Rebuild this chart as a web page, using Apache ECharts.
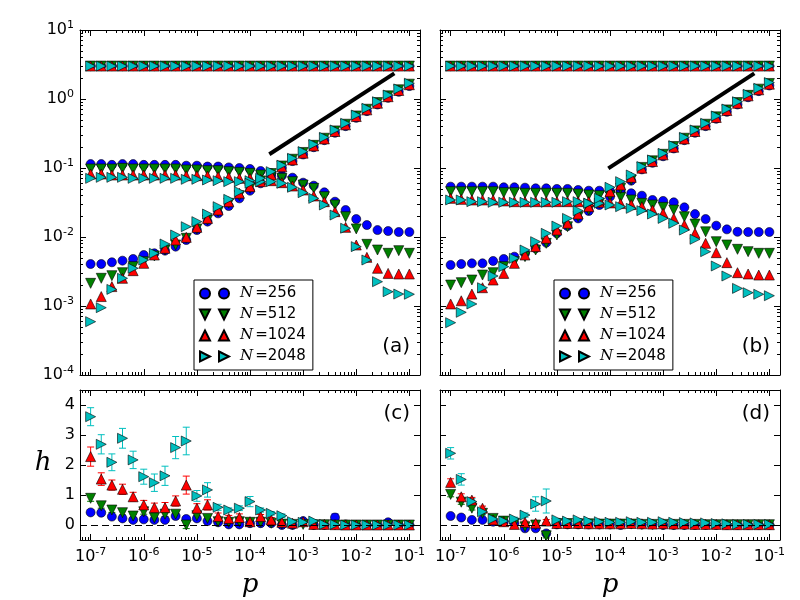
<!DOCTYPE html>
<html>
<head>
<meta charset="utf-8">
<script src="https://cdn.jsdelivr.net/npm/echarts@6/dist/echarts.min.js"></script>
<style>
  html, body { margin: 0; background: #fff; }
  #chart { width: 800px; height: 600px; }
</style>
</head>
<body>
<div id="chart"></div>
<script>
// log10(p) for each sample
const logP = [-7, -6.8, -6.6, -6.4, -6.2, -6, -5.8, -5.6, -5.4, -5.2, -5, -4.8, -4.6, -4.4, -4.2,
  -4, -3.8, -3.6, -3.4, -3.2, -3, -2.8, -2.6, -2.4, -2.2, -2, -1.8, -1.6, -1.4, -1.2, -1];

// panel (a): saturated level, plateau branch, rising branch
const aSat = [3.0, 3.0, 3.0, 3.0, 3.0, 3.0, 3.0, 3.0, 3.0, 3.0, 3.0, 3.0, 3.0, 3.0, 3.0, 3.0,
  3.0, 3.0, 3.0, 3.0, 3.0, 3.0, 3.0, 3.0, 3.0, 3.0, 3.0, 3.0, 3.0, 3.0, 3.0];
const a256Plat = [0.114, 0.114, 0.111, 0.114, 0.114, 0.111, 0.111, 0.111, 0.111, 0.108, 0.108, 0.105, 0.105, 0.102, 0.100,
  0.0968, 0.0905, 0.0837, 0.0774, 0.0724, 0.0613, 0.0555, 0.0444, 0.0325, 0.0246, 0.0182, 0.0149, 0.0126, 0.0122, 0.0118, 0.0118];
const a512Plat = [0.0968, 0.0968, 0.0968, 0.0989, 0.0968, 0.0968, 0.0968, 0.0968, 0.0968, 0.0936, 0.0936, 0.0915, 0.0915, 0.0885, 0.0866,
  0.0837, 0.0792, 0.0749, 0.0708, 0.0634, 0.0567, 0.0507, 0.0384, 0.0291, 0.0197, 0.0131, 0.00783, 0.00648, 0.00580, 0.00634, 0.00580];
const a1024Plat = [0.0819, 0.0819, 0.0792, 0.0792, 0.0792, 0.0792, 0.0792, 0.0792, 0.0792, 0.0774, 0.0774, 0.0766, 0.0749, 0.0732, 0.0708,
  0.0708, 0.0685, 0.0655, 0.0613, 0.0548, 0.0480, 0.0393, 0.0325, 0.0233, 0.0138, 0.00766, 0.00507, 0.00352, 0.00297, 0.00291, 0.00291];
const a2048Plat = [0.0708, 0.0732, 0.0732, 0.0732, 0.0708, 0.0708, 0.0708, 0.0708, 0.0708, 0.0685, 0.0685, 0.0670, 0.0655, 0.0634, 0.0634,
  0.0655, 0.0634, 0.0634, 0.0600, 0.0525, 0.0439, 0.0363, 0.0291, 0.0208, 0.0134, 0.00725, 0.00464, 0.00225, 0.00161, 0.00149, 0.00148];
const a256Rise = [0.00406, 0.00406, 0.00430, 0.00454, 0.00480, 0.00548, 0.00580, 0.00634, 0.00725, 0.00904, 0.0126, 0.0167, 0.0220, 0.0281, 0.0363,
  0.0469, 0.0600, 0.0749, 0.100, 0.126, 0.157, 0.200, 0.253, 0.324, 0.404, 0.533, 0.667, 0.832, 1.04, 1.27, 1.54];
const a512Rise = [0.00213, 0.00252, 0.00275, 0.00304, 0.00372, 0.00439, 0.00531, 0.00648, 0.00766, 0.00957, 0.0131, 0.0176, 0.0233, 0.0308, 0.0397,
  0.0507, 0.0650, 0.0830, 0.107, 0.134, 0.168, 0.213, 0.270, 0.345, 0.431, 0.568, 0.711, 0.887, 1.11, 1.36, 1.64];
const a1024Rise = [0.00107, 0.00137, 0.00191, 0.00252, 0.00325, 0.00415, 0.00548, 0.00686, 0.00904, 0.00989, 0.0138, 0.0186, 0.0246, 0.0325, 0.0430,
  0.0537, 0.0634, 0.0792, 0.104, 0.131, 0.164, 0.209, 0.264, 0.338, 0.422, 0.557, 0.696, 0.868, 1.08, 1.33, 1.61];
const a2048Rise = [0.000593, 0.000946, 0.00174, 0.00252, 0.00352, 0.00464, 0.00580, 0.00792, 0.0107, 0.0141, 0.0167, 0.0215, 0.0275, 0.0351, 0.0454,
  0.0600, 0.0708, 0.0885, 0.110, 0.138, 0.173, 0.220, 0.278, 0.356, 0.444, 0.586, 0.733, 0.914, 1.14, 1.40, 1.69];

// panel (b)
const bSat = [3.0, 3.0, 3.0, 3.0, 3.0, 3.0, 3.0, 3.0, 3.0, 3.0, 3.0, 3.0, 3.0, 3.0, 3.0, 3.0,
  3.0, 3.0, 3.0, 3.0, 3.0, 3.0, 3.0, 3.0, 3.0, 3.0, 3.0, 3.0, 3.0, 3.0, 3.0];
const b256Plat = [0.0537, 0.0537, 0.0537, 0.0537, 0.0537, 0.0525, 0.0525, 0.0519, 0.0507, 0.0507, 0.0497, 0.0497, 0.0480, 0.0469, 0.0469,
  0.0464, 0.0454, 0.0430, 0.0397, 0.0344, 0.0333, 0.0318, 0.0269, 0.0215, 0.0182, 0.0146, 0.0129, 0.0119, 0.0118, 0.0118, 0.0118];
const b512Plat = [0.0454, 0.0454, 0.0454, 0.0454, 0.0454, 0.0439, 0.0439, 0.0430, 0.0430, 0.0430, 0.0430, 0.0430, 0.0420, 0.0406, 0.0397,
  0.0397, 0.0376, 0.0344, 0.0308, 0.0291, 0.0269, 0.0246, 0.0197, 0.0154, 0.0119, 0.00855, 0.00766, 0.00663, 0.00613, 0.00580, 0.00580];
const b1024Plat = [0.0363, 0.0351, 0.0344, 0.0344, 0.0344, 0.0333, 0.0325, 0.0325, 0.0325, 0.0325, 0.0325, 0.0325, 0.0325, 0.0325, 0.0320,
  0.0312, 0.0305, 0.0295, 0.0275, 0.0246, 0.0220, 0.0186, 0.0149, 0.0113, 0.00809, 0.00593, 0.00425, 0.00304, 0.00291, 0.00281, 0.00281];
const b2048Plat = [0.0344, 0.0344, 0.0325, 0.0325, 0.0318, 0.0318, 0.0318, 0.0318, 0.0318, 0.0318, 0.0318, 0.0325, 0.0325, 0.0308, 0.0308,
  0.0291, 0.0275, 0.0260, 0.0241, 0.0215, 0.0186, 0.0158, 0.0126, 0.00925, 0.00613, 0.00380, 0.00272, 0.00180, 0.00156, 0.00148, 0.00141];
const b256Rise = [0.00393, 0.00406, 0.00415, 0.00415, 0.00449, 0.00480, 0.00519, 0.00580, 0.00686, 0.00827, 0.0113, 0.0144, 0.0186, 0.0238, 0.0291,
  0.0384, 0.0491, 0.0655, 0.0955, 0.119, 0.148, 0.192, 0.253, 0.324, 0.404, 0.517, 0.652, 0.832, 1.06, 1.30, 1.57];
const b512Rise = [0.00201, 0.00218, 0.00238, 0.00281, 0.00304, 0.00372, 0.00439, 0.00519, 0.00648, 0.00809, 0.0107, 0.0141, 0.0197, 0.0246, 0.0308,
  0.0393, 0.0507, 0.0670, 0.102, 0.127, 0.158, 0.205, 0.270, 0.345, 0.431, 0.551, 0.695, 0.887, 1.13, 1.39, 1.68];
const b1024Rise = [0.00107, 0.00119, 0.00149, 0.00184, 0.00238, 0.00297, 0.00415, 0.00548, 0.00725, 0.00957, 0.0126, 0.0158, 0.0215, 0.0275, 0.0344,
  0.0454, 0.0567, 0.0732, 0.0995, 0.124, 0.155, 0.200, 0.264, 0.338, 0.422, 0.540, 0.680, 0.868, 1.11, 1.36, 1.64];
const b2048Rise = [0.000573, 0.000810, 0.00107, 0.00184, 0.00272, 0.00372, 0.00491, 0.00648, 0.00855, 0.0113, 0.0144, 0.0186, 0.0241, 0.0308, 0.0363,
  0.0525, 0.0634, 0.0792, 0.105, 0.131, 0.163, 0.211, 0.278, 0.356, 0.444, 0.568, 0.716, 0.914, 1.17, 1.43, 1.73];

// guide lines ~ p^(1/2)
const slopeAP = [2.31e-4, 0.0521];
const slopeAV = [0.158, 2.355];
const slopeBP = [9.3e-5, 0.0521];
const slopeBV = [0.0989, 2.355];

// panel (c): h and its error
const c256 = [0.42, 0.41, 0.28, 0.22, 0.17, 0.19, 0.17, 0.17, 0.30, 0.20, 0.22, 0.13, 0.09, 0.02, 0.02, 0.06,
  0.06, 0.06, 0.00, 0.00, 0.13, 0.00, 0.00, 0.25, 0.02, 0.00, 0.00, 0.00, 0.09, 0.00, 0.00];
const c256Err = [0.06, 0.06, 0.05, 0.05, 0.05, 0.05, 0.05, 0.05, 0.07, 0.06, 0.06, 0.05, 0.04, 0.03, 0.03, 0.03,
  0.03, 0.03, 0.02, 0.02, 0.04, 0.02, 0.02, 0.12, 0.02, 0.01, 0.01, 0.01, 0.04, 0.01, 0.01];
const c512 = [0.89, 0.64, 0.50, 0.41, 0.30, 0.44, 0.24, 0.36, 0.36, 0.00, 0.31, 0.22, 0.11, 0.09, 0.11, 0.09,
  0.09, 0.06, 0.03, 0.02, 0.02, 0.01, 0.01, 0.00, 0.00, 0.00, 0.00, 0.00, 0.00, 0.00, 0.00];
const c512Err = [0.10, 0.08, 0.08, 0.07, 0.06, 0.08, 0.07, 0.08, 0.08, 0.12, 0.08, 0.06, 0.05, 0.04, 0.04, 0.04,
  0.04, 0.03, 0.02, 0.02, 0.02, 0.01, 0.01, 0.01, 0.01, 0.01, 0.01, 0.01, 0.01, 0.01, 0.01];
const c1024 = [2.28, 1.53, 1.33, 1.19, 0.94, 0.67, 0.58, 0.58, 0.80, 1.33, 0.56, 0.67, 0.28, 0.22, 0.25, 0.11,
  0.28, 0.17, 0.09, 0.06, 0.11, 0.02, 0.02, 0.01, 0.00, 0.00, 0.00, 0.00, 0.00, 0.00, 0.00];
const c1024Err = [0.32, 0.21, 0.17, 0.17, 0.15, 0.15, 0.15, 0.17, 0.17, 0.30, 0.15, 0.17, 0.12, 0.10, 0.12, 0.05,
  0.07, 0.08, 0.05, 0.04, 0.04, 0.02, 0.02, 0.01, 0.01, 0.01, 0.01, 0.01, 0.01, 0.01, 0.01];
const c2048 = [3.61, 2.69, 2.09, 2.89, 2.17, 1.61, 1.41, 1.64, 2.58, 2.80, 0.97, 1.17, 0.59, 0.50, 0.56, 0.78,
  0.50, 0.39, 0.31, 0.11, 0.09, 0.13, 0.02, 0.02, 0.00, 0.00, 0.00, 0.00, 0.00, 0.00, 0.00];
const c2048Err = [0.30, 0.32, 0.28, 0.33, 0.29, 0.25, 0.29, 0.32, 0.37, 0.46, 0.18, 0.24, 0.10, 0.07, 0.08, 0.17,
  0.07, 0.06, 0.06, 0.04, 0.03, 0.03, 0.02, 0.02, 0.01, 0.01, 0.01, 0.01, 0.01, 0.01, 0.01];

// panel (d)
const d256 = [0.30, 0.25, 0.17, 0.17, 0.11, 0.11, 0.06, -0.11, -0.11, -0.28, 0.02, 0.02, 0.02, 0.02, 0.02, 0.02,
  0.00, 0.04, 0.02, 0.02, 0.00, 0.00, 0.00, 0.00, 0.00, 0.00, 0.00, 0.00, 0.00, 0.00, 0.00];
const d256Err = [0.04, 0.04, 0.04, 0.04, 0.04, 0.04, 0.04, 0.04, 0.04, 0.06, 0.02, 0.02, 0.02, 0.02, 0.02, 0.02,
  0.02, 0.02, 0.02, 0.02, 0.01, 0.01, 0.01, 0.01, 0.01, 0.01, 0.01, 0.01, 0.01, 0.01, 0.01];
const d512 = [1.02, 0.76, 0.56, 0.39, 0.22, 0.13, 0.06, -0.06, 0.00, -0.36, 0.05, 0.05, 0.04, 0.04, 0.03, 0.03,
  0.03, 0.03, 0.02, 0.02, 0.02, 0.02, 0.02, 0.02, 0.01, 0.01, 0.01, 0.01, 0.01, 0.01, 0.01];
const d512Err = [0.08, 0.07, 0.06, 0.05, 0.05, 0.04, 0.04, 0.04, 0.04, 0.07, 0.02, 0.02, 0.02, 0.02, 0.02, 0.02,
  0.02, 0.02, 0.02, 0.02, 0.01, 0.01, 0.01, 0.01, 0.01, 0.01, 0.01, 0.01, 0.01, 0.01, 0.01];
const d1024 = [1.42, 0.94, 0.83, 0.56, 0.17, 0.11, 0.02, 0.09, 0.06, 0.13, 0.05, 0.05, 0.05, 0.04, 0.04, 0.04,
  0.04, 0.05, 0.04, 0.03, 0.04, 0.03, 0.03, 0.02, 0.02, 0.02, 0.01, 0.01, 0.01, 0.01, 0.01];
const d1024Err = [0.12, 0.10, 0.09, 0.07, 0.05, 0.04, 0.04, 0.04, 0.04, 0.05, 0.02, 0.02, 0.02, 0.02, 0.02, 0.02,
  0.02, 0.02, 0.02, 0.02, 0.01, 0.01, 0.01, 0.01, 0.01, 0.01, 0.01, 0.01, 0.01, 0.01, 0.01];
const d2048 = [2.39, 1.52, 0.78, 0.44, 0.20, 0.13, 0.20, 0.33, 0.70, 0.80, 0.17, 0.13, 0.17, 0.13, 0.11, 0.09,
  0.09, 0.11, 0.09, 0.09, 0.11, 0.09, 0.08, 0.07, 0.07, 0.05, 0.04, 0.02, 0.02, 0.02, 0.02];
const d2048Err = [0.19, 0.19, 0.10, 0.08, 0.06, 0.06, 0.06, 0.07, 0.24, 0.40, 0.05, 0.04, 0.04, 0.04, 0.03, 0.03,
  0.03, 0.03, 0.03, 0.03, 0.03, 0.03, 0.02, 0.02, 0.02, 0.02, 0.02, 0.02, 0.02, 0.02, 0.02];

const xTicks = [-7, -6, -5, -4, -3, -2, -1];
const yTicksLog = [-4, -3, -2, -1, 0, 1];
const yTicksH = [0, 1, 2, 3, 4];

const FONT = 'DejaVu Sans';
const XMIN = -7.2, XMAX = -0.8;

function minorLogTicks(lo, hi) {
  const out = [];
  for (let d = Math.floor(lo); d < hi; d++) {
    for (let k = 2; k <= 9; k++) {
      const v = d + Math.log10(k);
      if (v > lo && v < hi) out.push(v);
    }
  }
  return out;
}
const xMinor = minorLogTicks(XMIN, XMAX);
const yMinor = minorLogTicks(-4, 1);

const grids = [
  { left: 80, top: 30, width: 340, height: 345 },
  { left: 440, top: 30, width: 340, height: 345 },
  { left: 80, top: 390, width: 340, height: 150 },
  { left: 440, top: 390, width: 340, height: 150 }
];

const labelRich = {
  b: { fontFamily: FONT, fontSize: 16, color: '#000', lineHeight: 20 },
  s: { fontFamily: FONT, fontSize: 11, color: '#000', verticalAlign: 'top' }
};
const pow10 = v => '{b|10}{s|' + v + '}';

function axis(gridIndex, position, min, max, ticks, len, lineShow, label) {
  return {
    type: 'value', gridIndex, position, min, max,
    axisLine: { show: lineShow, onZero: false, lineStyle: { color: '#000', width: 1 } },
    axisTick: {
      show: ticks.length > 0, inside: true, length: len, customValues: ticks,
      lineStyle: { color: '#000', width: 1 }
    },
    axisLabel: label ? {
      show: true, customValues: label.values, formatter: label.fmt,
      margin: label.margin, color: '#000', fontFamily: FONT, fontSize: 16, rich: labelRich
    } : { show: false },
    splitLine: { show: false }
  };
}

const xAxis = [], yAxis = [];
grids.forEach((g, gi) => {
  const xl = gi >= 2 ? { values: xTicks, fmt: pow10, margin: 7 } : null;
  xAxis.push(axis(gi, 'bottom', XMIN, XMAX, xTicks, 6, true, xl));
  xAxis.push(axis(gi, 'bottom', XMIN, XMAX, xMinor, 3, false, null));
  xAxis.push(axis(gi, 'top', XMIN, XMAX, xTicks, 6, true, null));
  xAxis.push(axis(gi, 'top', XMIN, XMAX, xMinor, 3, false, null));
  if (gi < 2) {
    const yl = gi === 0 ? { values: yTicksLog, fmt: pow10, margin: 6 } : null;
    yAxis.push(axis(gi, 'left', -4, 1, yTicksLog, 6, true, yl));
    yAxis.push(axis(gi, 'left', -4, 1, yMinor, 3, false, null));
    yAxis.push(axis(gi, 'right', -4, 1, yTicksLog, 6, true, null));
    yAxis.push(axis(gi, 'right', -4, 1, yMinor, 3, false, null));
  } else {
    const yl = gi === 2 ? { values: yTicksH, fmt: v => String(v), margin: 5 } : null;
    yAxis.push(axis(gi, 'left', -0.5, 4.5, yTicksH, 6, true, yl));
    yAxis.push(axis(gi, 'left', -0.5, 4.5, [], 3, false, null));
    yAxis.push(axis(gi, 'right', -0.5, 4.5, yTicksH, 6, true, null));
    yAxis.push(axis(gi, 'right', -0.5, 4.5, [], 3, false, null));
  }
});

const kinds = [
  { name: 'N=256', color: '#0000ff', symbol: 'circle', size: 9, rotate: 0,
    icon: 'path://M0,5A5,5,0,1,1,10,5A5,5,0,1,1,0,5Z M19,5A5,5,0,1,1,29,5A5,5,0,1,1,19,5Z' },
  { name: 'N=512', color: '#008000', symbol: 'triangle', size: 10, rotate: 180,
    icon: 'path://M0,0L10,0L5,10Z M19,0L29,0L24,10Z' },
  { name: 'N=1024', color: '#ff0000', symbol: 'triangle', size: 10, rotate: 0,
    icon: 'path://M5,0L10,10L0,10Z M24,0L29,10L19,10Z' },
  { name: 'N=2048', color: '#00bfbf', symbol: 'triangle', size: 10, rotate: -90,
    icon: 'path://M0,0L10,5L0,10Z M19,0L29,5L19,10Z' }
];

const topSets = [
  [[aSat, a256Plat, a256Rise], [aSat, a512Plat, a512Rise], [aSat, a1024Plat, a1024Rise], [aSat, a2048Plat, a2048Rise]],
  [[bSat, b256Plat, b256Rise], [bSat, b512Plat, b512Rise], [bSat, b1024Plat, b1024Rise], [bSat, b2048Plat, b2048Rise]]
];
const bottomSets = [
  [[c256, c256Err], [c512, c512Err], [c1024, c1024Err], [c2048, c2048Err]],
  [[d256, d256Err], [d512, d512Err], [d1024, d1024Err], [d2048, d2048Err]]
];

const logPts = vals => vals.map((v, i) => [logP[i], Math.log10(v)]);

const series = [];

// guide lines
[[slopeAP, slopeAV, 0], [slopeBP, slopeBV, 1]].forEach(([ps, vs, gi]) => {
  series.push({
    type: 'line', xAxisIndex: 4 * gi, yAxisIndex: 4 * gi, symbol: 'none', silent: true,
    lineStyle: { color: '#000', width: 4 },
    data: ps.map((p, i) => [Math.log10(p), Math.log10(vs[i])])
  });
});

// top panels
topSets.forEach((sets, gi) => {
  sets.forEach((groups, k) => {
    const s = kinds[k];
    series.push({
      name: s.name, type: 'scatter', xAxisIndex: 4 * gi, yAxisIndex: 4 * gi,
      symbol: s.symbol, symbolSize: s.size, symbolRotate: s.rotate,
      itemStyle: { color: s.color, borderColor: '#000', borderWidth: 0.6, opacity: 1 },
      data: [].concat(...groups.map(logPts))
    });
  });
});

// bottom panels
bottomSets.forEach((sets, bi) => {
  const gi = bi + 2;
  sets.forEach(([vals, errs], k) => {
    const s = kinds[k];
    series.push({
      name: 'err ' + s.name + ' ' + gi, type: 'custom', xAxisIndex: 4 * gi, yAxisIndex: 4 * gi,
      silent: true,
      encode: { x: 0, y: 1 },
      data: vals.map((v, i) => [logP[i], v, errs[i]]),
      renderItem: (params, api) => {
        const x = api.value(0), y = api.value(1), e = api.value(2);
        const lo = api.coord([x, y - e]), hi = api.coord([x, y + e]);
        const c = 3.5;
        const st = { stroke: s.color, lineWidth: 1 };
        return {
          type: 'group', children: [
            { type: 'line', shape: { x1: lo[0], y1: lo[1], x2: hi[0], y2: hi[1] }, style: st },
            { type: 'line', shape: { x1: lo[0] - c, y1: lo[1], x2: lo[0] + c, y2: lo[1] }, style: st },
            { type: 'line', shape: { x1: hi[0] - c, y1: hi[1], x2: hi[0] + c, y2: hi[1] }, style: st }
          ]
        };
      }
    });
    const sc = {
      name: s.name, type: 'scatter', xAxisIndex: 4 * gi, yAxisIndex: 4 * gi,
      symbol: s.symbol, symbolSize: s.size, symbolRotate: s.rotate,
      itemStyle: { color: s.color, borderColor: '#000', borderWidth: 0.6, opacity: 1 },
      data: vals.map((v, i) => [logP[i], v])
    };
    if (k === 0) {
      sc.markLine = {
        silent: true, symbol: ['none', 'none'], label: { show: false },
        lineStyle: { color: '#000', type: [7, 4], width: 1 },
        data: [{ yAxis: 0 }]
      };
    }
    series.push(sc);
  });
});

const legend = [0, 1].map(gi => ({
  data: kinds.map(s => ({ name: s.name, icon: s.icon })),
  orient: 'vertical', left: grids[gi].left + 114, top: 280,
  itemWidth: 29, itemHeight: 10, itemGap: 6,
  padding: [6, 7, 6, 5],
  backgroundColor: '#fff', borderColor: '#000', borderWidth: 1, borderRadius: 0,
  selectedMode: false, symbolRotate: 0,
  formatter: name => '{i|N}{t|=' + name.split('=')[1] + '}',
  textStyle: {
    padding: [0, 0, 0, 6],
    rich: {
      i: { fontFamily: 'DejaVu Serif', fontStyle: 'italic', fontSize: 15, color: '#000', padding: [0, 2, 0, 0] },
      t: { fontFamily: FONT, fontSize: 15, color: '#000' }
    }
  }
}));

const txt = (x, y, text, extra) => ({
  type: 'text', x, y, silent: true,
  style: Object.assign({ text, fontFamily: FONT, fontSize: 20, fill: '#000', align: 'right', verticalAlign: 'middle' }, extra || {})
});
const italic = { fontFamily: 'DejaVu Serif', fontStyle: 'italic', fontSize: 26, align: 'center' };

const chart = echarts.init(document.getElementById('chart'));
chart.setOption({
  animation: false,
  backgroundColor: '#fff',
  grid: grids,
  xAxis, yAxis, legend, series,
  graphic: [
    txt(410, 347, '(a)'), txt(770, 347, '(b)'),
    txt(410, 414, '(c)'), txt(770, 414, '(d)'),
    txt(43, 463, 'h', italic),
    txt(250, 585, 'p', italic), txt(610, 585, 'p', italic)
  ]
});
</script>
</body>
</html>
